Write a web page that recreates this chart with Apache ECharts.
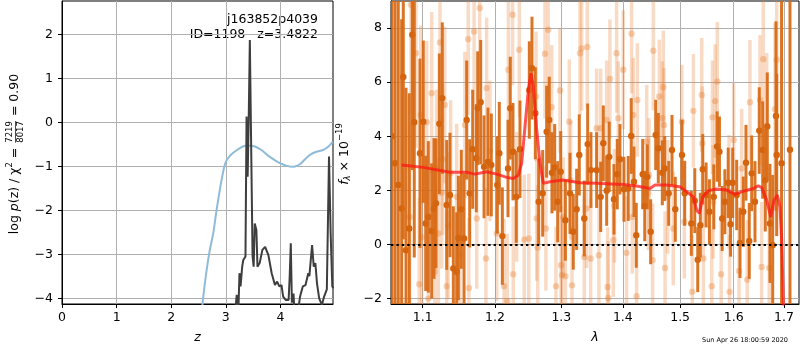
<!DOCTYPE html>
<html><head><meta charset="utf-8">
<script src="https://cdn.jsdelivr.net/npm/echarts@6/dist/echarts.min.js"></script>
<style>html,body{margin:0;padding:0;background:#fff}#c{width:800px;height:350px}</style>
</head><body><div id="c"></div>
<script>
// ---------- data: left panel (log p(z) / chi2) ----------
const blueZ  = [2.55, 2.58, 2.65, 2.70, 2.77, 2.83, 2.89, 2.94, 2.99, 3.05, 3.13, 3.25, 3.38, 3.53, 3.65, 3.80, 3.99, 4.12, 4.23, 4.30, 4.38, 4.46, 4.54, 4.66, 4.78, 4.88, 4.96];
const blueLog = [-4.5, -4.04, -3.35, -2.95, -2.52, -2.0, -1.54, -1.2, -0.93, -0.8, -0.70, -0.59, -0.53, -0.55, -0.63, -0.78, -0.93, -0.99, -1.01, -0.99, -0.93, -0.83, -0.74, -0.67, -0.63, -0.55, -0.44];
const blackZ  = [3.15, 3.18, 3.20, 3.23, 3.25, 3.27, 3.30, 3.32, 3.36, 3.38, 3.40, 3.42, 3.44, 3.47, 3.49, 3.51, 3.53, 3.56, 3.58, 3.62, 3.67, 3.72, 3.78, 3.84, 3.90, 3.94, 3.98, 4.02, 4.05, 4.10, 4.15, 4.17, 4.19, 4.21, 4.24, 4.26, 4.31, 4.36, 4.41, 4.46, 4.51, 4.53, 4.58, 4.61, 4.64, 4.67, 4.71, 4.76, 4.80, 4.85, 4.89, 4.92, 4.95, 4.97];
const blackLog = [-4.6, -4.2, -3.92, -4.3, -3.43, -3.73, -3.28, -3.13, -3.05, 0.13, -1.24, 0.13, 1.87, 1.83, -3.05, -3.28, -2.30, -2.45, -3.28, -3.2, -2.9, -2.83, -3.02, -3.43, -3.7, -3.62, -3.73, -3.7, -3.96, -4.04, -4.04, -3.5, -2.75, -4.1, -3.89, -4.4, -4.4, -3.96, -3.73, -3.7, -3.43, -3.5, -2.79, -3.28, -3.2, -3.66, -4.0, -4.15, -3.96, -3.8, -0.78, -2.52, -3.73, -3.77];
const leftXTicks = [0, 1, 2, 3, 4];
const leftYTicks = [-4, -3, -2, -1, 0, 1, 2];

// ---------- data: right panel (spectrum) ----------
const darkLam = [1.0600,1.0640,1.0681,1.0725,1.0746,1.0781,1.0824,1.0863,1.0889,1.0964,1.1008,1.1040,1.1075,1.1120,1.1151,1.1178,1.1223,1.1263,1.1323,1.1368,1.1414,1.1460,1.1483,
 1.1524,1.1562,1.1599,1.1641,1.1683,1.1734,1.1754,1.1796,1.1844,1.1900,1.1948,1.2035,1.2064,1.2108,1.2191,1.2224,1.2264,1.2313,1.2368,
 1.2508,1.2548,1.2599,1.2650,1.2711,1.2772,1.2812,1.2854,1.2896,1.2943,1.2990,1.3063,1.3136,1.3188,1.3242,1.3284,1.3364,1.3419,1.3472,
 1.3565,1.3631,1.3674,1.3730,1.3772,1.3851,1.3906,1.3951,1.4019,1.4091,1.4142,1.4189,1.4228,1.4339,1.4374,1.4419,1.4477,1.4565,1.4611,1.4682,
 1.4724,1.4795,1.4854,1.4913,1.5034,1.5083,1.5204,1.5267,1.5322,1.5370,1.5415,1.5477,1.5539,1.5621,1.5684,1.5728,1.5780,1.5831,1.5895,1.5940,
 1.5981,1.6058,1.6122,1.6186,1.6239,1.6303,1.6351,1.6416,1.6501,1.6569,1.6621,1.6661,1.6715,1.6770,1.6837,1.6851,1.6950,1.7123];
const darkFlux = [4.0,3.0,2.2,1.33,6.19,-0.21,0.59,7.75,4.52,3.37,4.54,0.78,1.02,0.50,1.33,1.52,4.46,5.41,1.46,1.83,-0.89,-1.01,0.24,
 1.30,0.22,4.60,1.89,3.52,3.19,5.04,5.26,2.87,3.06,2.94,2.20,3.37,0.31,2.81,5.04,3.43,1.76,3.52,
 5.71,6.52,4.85,1.58,1.89,4.17,4.60,2.65,2.85,1.58,2.69,0.90,1.89,0.47,1.30,3.31,0.96,3.71,2.75,
 2.75,1.76,3.74,1.99,3.24,1.67,2.60,3.15,2.04,2.07,4.01,2.32,0.34,2.60,1.42,2.50,0.47,4.05,3.56,2.65,
 2.81,1.89,3.49,1.30,3.31,1.89,0.78,1.62,-0.56,0.71,2.78,1.83,1.21,1.76,3.62,3.43,0.96,1.58,2.28,0.75,
 2.28,1.83,0.06,1.21,3.02,0.13,2.63,1.58,4.21,3.49,2.38,4.36,0.78,-0.03,4.75,3.31,3.0,3.5];
const darkErr = [8,8,7,7,6,6,5,5,5,3.5,3.0,2.5,2.8,2.5,2.6,2.4,2.6,2.8,2.4,2.3,2.3,2.2,2.3,
 2.2,2.4,2.2,2.0,2.2,2.0,2.1,2.3,1.9,2.0,1.9,1.8,1.9,1.8,1.8,1.9,1.8,1.7,1.8,
 1.8,1.9,1.7,1.6,1.6,1.7,1.6,1.5,1.6,1.5,1.5,1.5,1.5,1.4,1.5,1.5,1.4,1.5,1.4,
 1.4,1.3,1.4,1.3,1.3,1.3,1.3,1.3,1.2,1.2,1.4,1.3,1.2,1.3,1.3,1.2,1.2,1.3,1.3,1.2,
 1.2,1.2,1.3,1.2,1.3,1.2,1.2,1.2,1.2,1.2,1.3,1.2,1.2,1.2,1.3,1.3,1.2,1.2,1.3,1.2,
 1.3,1.3,1.3,1.3,1.4,1.4,1.4,1.5,1.6,1.8,1.9,2.0,2.2,2.6,3.5,3.0,8,12];

const lightLam = [1.0830,1.0846,1.0911,1.0955,1.0974,1.0987,1.1053,1.1075,1.1120,1.1163,1.1186,1.1209,1.1232,1.1254,1.1268,1.1296,1.1323,1.1341,1.1377,1.1460,1.1506,1.1574,1.1620,1.1630,1.1703,1.1740,1.1783,1.1871,1.1881,1.1929,
 1.2026,1.2133,1.2181,1.2196,1.2258,1.2268,1.2319,1.2358,1.2432,1.2500,1.2610,1.2620,1.2635,1.2746,1.2760,1.2796,1.2849,1.2916,1.2979,1.2995,1.3010,1.3031,1.3063,1.3125,1.3147,1.3168,
 1.3295,1.3322,1.3364,1.3402,1.3413,1.3467,1.3565,1.3602,1.3631,1.3730,1.3745,1.3757,1.3784,1.3840,1.3860,1.3895,1.3923,1.4007,1.4063,1.4148,1.4159,1.4176,1.4234,1.4247,
 1.4408,1.4436,1.4448,1.4511,1.4523,1.4629,1.4682,1.4699,1.4712,1.4730,1.4777,1.4877,1.5031,1.5076,1.5222,1.5241,1.5396,1.5407,1.5426,1.5583,1.5595,1.5610,1.5646,1.5687,
 1.5760,1.5910,1.5920,1.6000,1.6103,1.6154,1.6264,1.6317,1.6515,1.6548,1.6581,1.6649,1.6701,1.6817,1.6851];
const lightFlux = [1.02,8.86,7.07,-1.47,4.79,0.27,4.52,-2.0,5.59,-1.01,2.82,0.41,7.47,1.91,3.15,5.16,-1.54,0.70,2.63,1.76,-0.37,4.42,7.59,-1.61,7.87,0.96,8.74,-0.52,5.78,3.46,
 0.41,-1.54,-2.1,6.46,8.49,-1.10,1.76,7.20,0.18,0.22,5.47,0.96,-0.11,7.05,0.59,7.94,5.07,-1.54,5.69,-0.77,-1.14,1.02,-1.17,4.54,2.38,-1.51,
 7.07,7.25,-0.46,1.33,7.30,-0.52,4.30,-0.40,4.30,4.60,-1.57,-1.98,6.12,0.16,1.43,7.07,4.67,6.46,-0.31,7.79,1.02,4.79,-1.91,5.34,
 3.80,1.89,2.57,-0.58,7.16,5.47,4.67,5.81,4.42,-0.87,1.76,0.59,4.54,0.84,-1.75,4.94,5.53,3.74,-0.52,-1.54,4.70,1.58,5.30,6.02,
 -1.10,1.95,-1.75,3.86,-0.98,2.81,-1.30,5.26,5.34,-0.83,6.85,4.38,-0.87,5.00,6.83];
const lightErr = [3.5,4.0,3.5,3.2,3.3,3.2,3.0,3.0,3.0,2.9,2.9,2.8,3.0,2.8,2.8,2.9,2.8,2.7,2.7,2.7,2.7,2.7,2.8,2.6,2.8,2.6,2.9,2.6,2.6,2.6,
 2.5,2.5,2.5,2.5,2.6,2.5,2.4,2.5,2.4,2.4,2.4,2.3,2.3,2.4,2.3,2.4,2.3,2.2,2.3,2.2,2.2,2.2,2.2,2.3,2.2,2.2,
 2.3,2.3,2.2,2.2,2.3,2.2,2.2,2.2,2.2,2.2,2.2,2.1,2.2,2.1,2.1,2.2,2.1,2.2,2.1,2.2,2.1,2.1,2.1,2.1,
 2.1,2.1,2.1,2.1,2.2,2.1,2.1,2.1,2.1,2.1,2.1,2.1,2.1,2.1,2.1,2.1,2.1,2.1,2.1,2.1,2.1,2.1,2.1,2.2,
 2.1,2.1,2.1,2.1,2.2,2.2,2.2,2.3,2.4,2.4,2.6,2.7,2.8,3.2,3.5];

const modelLam = [1.0725,1.1008,1.1368,1.1599,1.1716,1.1881,1.2026,1.2171,1.2269,1.2343,1.2393,1.2443,1.2493,1.2533,1.2568,1.2620,1.2670,1.2720,1.2823,1.3031,1.3295,1.3565,1.4007,1.4234,1.4465,1.4553,1.4759,1.4998,1.5119,1.5241,1.5303,1.5352,1.5415,1.5520,1.5676,1.5866,1.6026,1.6186,1.6383,1.6481,1.6548,1.6649,1.6730,1.6797,1.6864,1.6918,1.6953,1.6987,1.7010];
const modelFlux = [2.94,2.85,2.67,2.67,2.60,2.69,2.60,2.48,2.44,2.56,3.00,4.36,5.71,6.33,5.84,4.23,3.00,2.26,2.32,2.38,2.28,2.26,2.22,2.16,2.07,2.20,2.20,2.13,1.95,1.76,1.27,1.15,1.76,1.99,2.05,2.01,1.85,1.97,2.07,2.17,2.10,1.64,1.02,1.64,1.83,1.39,0.16,-2.17,-3.5];

const lamTicks = [1.1, 1.2, 1.3, 1.4, 1.5, 1.6, 1.7];
const fluxTicks = [-2, 0, 2, 4, 6, 8];

// ---------- chart ----------
const F = 'DejaVu Sans';
const FS = 12.5;
const minus = v => String(v).replace('-', '\u2212');
const ctx = document.createElement('canvas').getContext('2d');
function tw(t, size, italic) { ctx.font = (italic ? 'italic ' : '') + size + 'px "' + F + '"'; return ctx.measureText(t).width; }

function buildTitle(parts, cx, cy) {
  let total = 0;
  parts.forEach(p => {
    p.size = p.size || FS;
    p.w = p.frac ? Math.max(tw(p.frac[0], p.size), tw(p.frac[1], p.size)) + 2 : tw(p.t, p.size, p.italic);
    total += p.w;
  });
  let x = -total / 2;
  const children = [];
  parts.forEach(p => {
    if (p.frac) {
      const mx = x + p.w / 2;
      children.push({ type: 'text', style: { text: p.frac[0], x: mx, y: -4.8, align: 'center', verticalAlign: 'middle', fontSize: p.size, fontFamily: F, fill: '#000' } });
      children.push({ type: 'text', style: { text: p.frac[1], x: mx, y: 5.6, align: 'center', verticalAlign: 'middle', fontSize: p.size, fontFamily: F, fill: '#000' } });
      children.push({ type: 'line', shape: { x1: x + 1, y1: 0.5, x2: x + p.w - 1, y2: 0.5 }, style: { stroke: '#000', lineWidth: 0.7 } });
    } else {
      children.push({ type: 'text', style: { text: p.t, x: x, y: p.dy || 0, align: 'left', verticalAlign: 'middle', fontSize: p.size, fontStyle: p.italic ? 'italic' : 'normal', fontFamily: F, fill: '#000' } });
    }
    x += p.w;
  });
  return { type: 'group', x: cx, y: cy, rotation: Math.PI / 2, children: children };
}

const gridLine = { show: true, lineStyle: { color: '#b0b0b0', width: 1 } };
const tick = { show: true, length: 4, lineStyle: { color: '#000', width: 1 } };
const axLine = { show: true, onZero: false, lineStyle: { color: '#000', width: 1 } };
const lab = { color: '#000', fontSize: FS, fontFamily: F };

const darkData = darkLam.map((l, i) => [Math.log(l), darkFlux[i], darkErr[i]]);
const lightData = lightLam.map((l, i) => [Math.log(l), lightFlux[i], lightErr[i]]);
const modelData = modelLam.map((l, i) => [Math.log(l), modelFlux[i]]);

function errRender(barColor, dotColor, barW, r) {
  return function (params, api) {
    const x = api.value(0), y = api.value(1), e = api.value(2);
    const a = api.coord([x, y + e]), b = api.coord([x, y - e]), c = api.coord([x, y]);
    return { type: 'group', children: [
      { type: 'line', shape: { x1: a[0], y1: a[1], x2: b[0], y2: b[1] }, style: { stroke: barColor, lineWidth: barW } },
      { type: 'circle', shape: { cx: c[0], cy: c[1], r: r }, style: { fill: dotColor } }
    ] };
  };
}

const chart = echarts.init(document.getElementById('c'), null, { renderer: 'canvas' });
chart.setOption({
  animation: false,
  backgroundColor: '#fff',
  grid: [
    { left: 62, top: 1, width: 271, height: 303, show: true, borderColor: '#000', borderWidth: 1 },
    { left: 391, top: 1, width: 408, height: 303, show: true, borderColor: '#000', borderWidth: 1 }
  ],
  xAxis: [
    { type: 'value', gridIndex: 0, min: 0, max: 4.963, axisLine: axLine, splitLine: gridLine,
      axisTick: Object.assign({ customValues: leftXTicks }, tick),
      axisLabel: Object.assign({ customValues: leftXTicks, margin: 7, formatter: v => minus(v) }, lab),
      name: 'z', nameLocation: 'middle', nameGap: 27,
      nameTextStyle: { fontSize: FS, fontFamily: F, fontStyle: 'italic', color: '#000' } },
    { type: 'value', gridIndex: 1, min: Math.log(1.0588), max: Math.log(1.731), axisLine: axLine, splitLine: gridLine,
      axisTick: Object.assign({ customValues: lamTicks.map(Math.log) }, tick),
      axisLabel: Object.assign({ customValues: lamTicks.map(Math.log), margin: 7, formatter: v => Math.exp(v).toFixed(1) }, lab),
      name: 'λ', nameLocation: 'middle', nameGap: 27,
      nameTextStyle: { fontSize: FS, fontFamily: F, fontStyle: 'italic', color: '#000' } }
  ],
  yAxis: [
    { type: 'value', gridIndex: 0, min: -4.13, max: 2.757, axisLine: axLine, splitLine: gridLine,
      axisTick: Object.assign({ customValues: leftYTicks }, tick),
      axisLabel: Object.assign({ customValues: leftYTicks, margin: 9, formatter: v => minus(v) }, lab) },
    { type: 'value', gridIndex: 1, min: -2.2, max: 9, axisLine: axLine, splitLine: gridLine,
      axisTick: Object.assign({ customValues: fluxTicks }, tick),
      axisLabel: Object.assign({ customValues: fluxTicks, margin: 9, formatter: v => minus(v) }, lab) }
  ],
  graphic: [
    buildTitle([{ t: 'log ' }, { t: 'p', italic: true }, { t: '(z) / χ' }, { t: '2', size: 8.5, dy: -5 }, { t: ' = ' }, { frac: ['7219', '8017'], size: 8.5 }, { t: ' = 0.90' }], 15, 154),
    buildTitle([{ t: 'f', italic: true }, { t: 'λ', size: 8.5, dy: 3, italic: true }, { t: ' × 10' }, { t: '\u221219', size: 8.5, dy: -5 }], 345, 154),
    { type: 'text', style: { text: 'j163852p4039', x: 318, y: 20, align: 'right', verticalAlign: 'middle', fontSize: FS, fontFamily: F, fill: '#000' } },
    { type: 'text', style: { text: 'ID=1198   z=3.4822', x: 318, y: 35, align: 'right', verticalAlign: 'middle', fontSize: FS, fontFamily: F, fill: '#000' } },
    { type: 'text', style: { text: 'Sun Apr 26 18:00:59 2020', x: 788, y: 340, align: 'right', verticalAlign: 'middle', fontSize: 6.5, fontFamily: F, fill: '#000' } }
  ],
  series: [
    { type: 'line', xAxisIndex: 0, yAxisIndex: 0, data: blueZ.map((z, i) => [z, blueLog[i]]), smooth: 0.3, showSymbol: false,
      lineStyle: { color: 'rgb(143,187,217)', width: 2 }, z: 2 },
    { type: 'line', xAxisIndex: 0, yAxisIndex: 0, data: blackZ.map((z, i) => [z, blackLog[i]]), showSymbol: false,
      lineStyle: { color: 'rgb(62,62,62)', width: 2 }, z: 3 },
    { type: 'custom', xAxisIndex: 1, yAxisIndex: 1, data: lightData, clip: true, encode: { x: 0, y: 1 },
      renderItem: errRender('rgba(232,125,45,0.28)', 'rgba(232,125,45,0.35)', 3.5, 3.2), z: 2 },
    { type: 'custom', xAxisIndex: 1, yAxisIndex: 1, data: darkData, clip: true, encode: { x: 0, y: 1 },
      renderItem: errRender('rgba(215,105,20,0.92)', 'rgb(212,100,14)', 3, 3.2), z: 3 },
    { type: 'line', xAxisIndex: 1, yAxisIndex: 1, data: modelData, showSymbol: false,
      lineStyle: { color: 'rgba(255,20,20,0.72)', width: 3 }, z: 4,
      markLine: { silent: true, symbol: ['none', 'none'], label: { show: false }, z: 6,
        lineStyle: { color: '#000', type: [2.4, 3], width: 1.8 },
        data: [{ yAxis: 0 }] } }
  ]
});
</script></body></html>
